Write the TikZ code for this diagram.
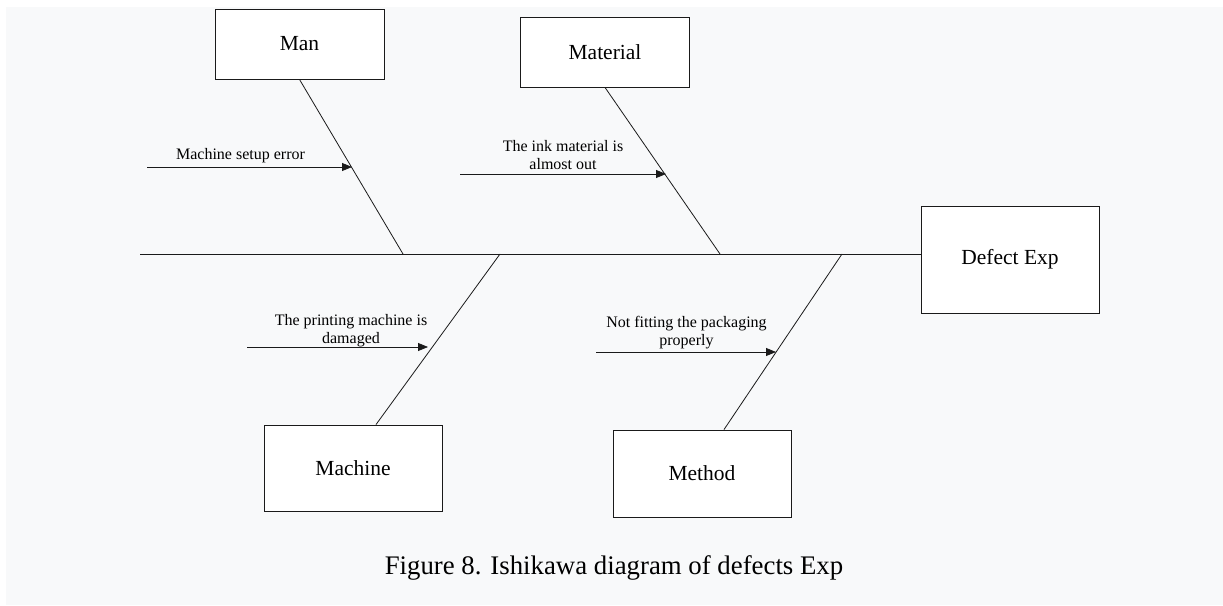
\documentclass[tikz,border=0pt]{standalone}
\usepackage{fontspec}
\setmainfont{Liberation Serif}
\usetikzlibrary{arrows.meta}
\definecolor{paper}{HTML}{F8F9FA}
\definecolor{ink}{HTML}{1A1A1A}

\begin{document}
\begin{tikzpicture}[x=1pt, y=-1pt, line width=0.8pt,
    cause/.style={draw=ink, fill=white, line width=0.9pt, inner sep=0pt,
        minimum width=169pt, minimum height=70pt, font=\fontsize{21.5}{24}\selectfont},
    reason/.style={draw=ink, -{Triangle[length=10pt, width=8pt]}},
    note/.style={font=\fontsize{16}{18}\selectfont, align=center, anchor=south, inner sep=0pt}]
    \useasboundingbox (0,0) rectangle (1223,605);
    \fill [paper] (6,7) rectangle (1223,605);

    \node [cause] (man) at (299.5,44) {Man};
    \node [cause] (material) at (605,52) {Material};
    \node [cause, minimum width=178pt, minimum height=86pt] (machine) at (353,468) {Machine};
    \node [cause, minimum width=178pt, minimum height=87pt] (method) at (702,473.5) {Method};
    \node [cause, minimum width=178pt, minimum height=107pt] (defect) at (1010,259.5) {Defect Exp};

    \coordinate (tail) at (140,254);
    \coordinate (A) at (403,254);
    \coordinate (B) at (500,254);
    \coordinate (C) at (720,254);
    \coordinate (D) at (842,254);
    \draw [ink] (tail) -- (tail -| defect.west);

    \draw [ink] (man.south) -- (A);
    \draw [ink] (material.south) -- (C);
    \draw [ink] (B) -- (machine.north -| 376,0);
    \draw [ink] (D) -- (method.north -| 724,0);

    \coordinate (a1) at (147,167);
    \coordinate (a2) at (352,167);
    \coordinate (b1) at (460,174);
    \coordinate (b2) at (666,174);
    \coordinate (c1) at (247,347);
    \coordinate (c2) at (428,347);
    \coordinate (d1) at (596,352);
    \coordinate (d2) at (776,352);
    \draw [reason] (a1) -- (a2);
    \draw [reason] (b1) -- (b2);
    \draw [reason] (c1) -- (c2);
    \draw [reason] (d1) -- (d2);
    \node [note] at (240.5,163) {Machine setup error};
    \node [note] at (563,170) {The ink material is\\almost out};
    \node [note] at (351,347) {The printing machine is\\damaged};
    \node [note] at (686.5,349) {Not fitting the packaging\\properly};

    \node [font=\fontsize{26.8}{30}\selectfont, anchor=base] (caption) at (614,574)
        {Figure 8. Ishikawa diagram of defects Exp};
\end{tikzpicture}
\end{document}
